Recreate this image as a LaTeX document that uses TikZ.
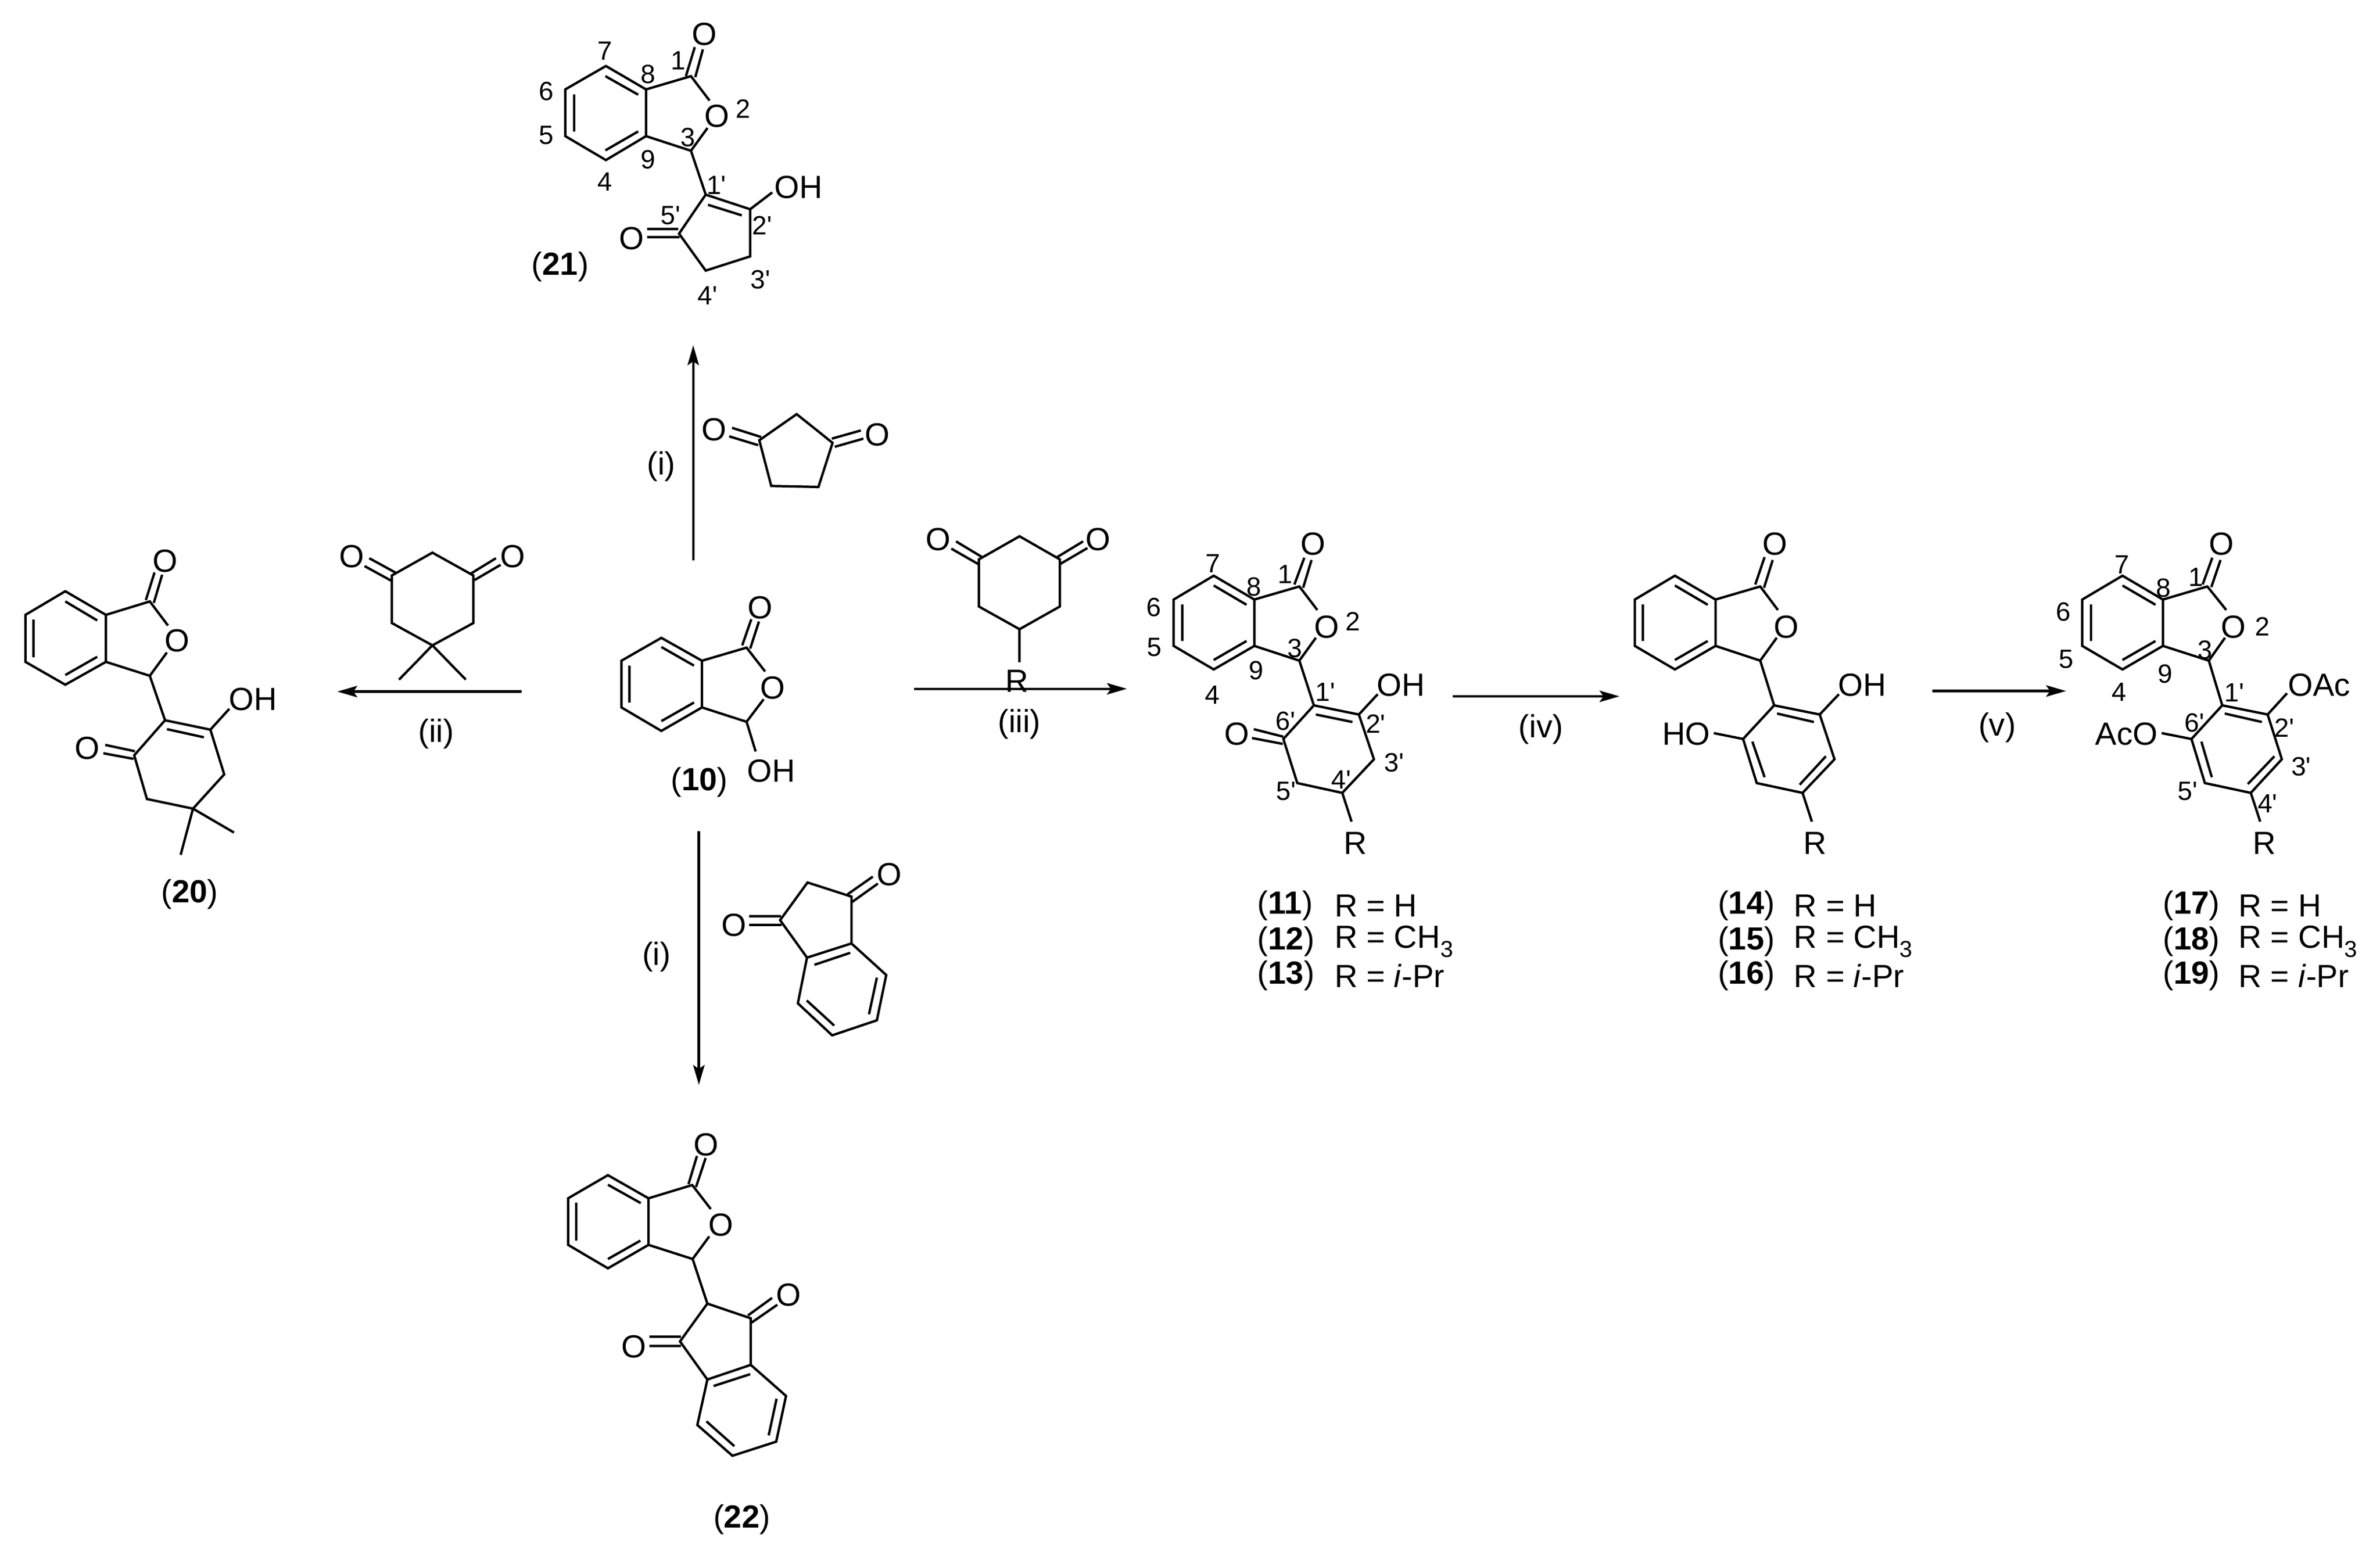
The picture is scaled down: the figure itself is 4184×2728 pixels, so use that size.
\documentclass[tikz,border=0pt]{standalone}
\usepackage{fontspec}
\setmainfont{Liberation Sans}
\usetikzlibrary{arrows.meta}
\newcommand{\prm}{\textquotesingle}
\newcommand{\pts}[1]{\foreach \n/\xx/\yy in {#1} \coordinate (\n) at (\xx,\yy);}
\newcommand{\nums}[2]{\foreach \t/\xx/\yy [count=\i] in {#2} \node[num] (#1-\i) at (\xx,\yy) {\t};}
\newcommand{\lactone}{%
  \draw[bond] (r1)--(r2)--(r3)--(r4)--(r5)--(r6)--cycle;
  \draw[bond] (i1a)--(i1b) (i2a)--(i2b) (i3a)--(i3b);
  \draw[bond] (r2)--(c1)--(oa) (ob)--(c3)--(r3);
  \draw[bond] (d1a)--(d1b) (d2a)--(d2b);
}
\newcommand{\subt}{\raisebox{-0.55ex}{\fontsize{11.5}{12}\selectfont 3}}
\tikzset{
  z/.style n args={4}{shift={(#1,#2)},xscale=#3,yscale=#4},
  bond/.style={line width=1.2pt,line join=miter,black},
  rxn/.style={line width=1.25pt,black,-{Stealth[length=0.35cm,width=0.2cm,inset=0.07cm]}},
  atom/.style={inner sep=0pt,font=\fontsize{16}{18}\selectfont},
  num/.style={inner sep=0pt,font=\fontsize{13.2}{14}\selectfont},
  cond/.style={inner sep=0pt,font=\fontsize{16}{18}\selectfont},
  cmp/.style={inner sep=0pt,anchor=west,font=\fontsize{16}{18}\selectfont},
  cmpc/.style={inner sep=0pt,font=\fontsize{16}{18}\selectfont},
}
\begin{document}
\begin{tikzpicture}[x=0.01cm,y=-0.01cm]
\useasboundingbox (0,0) rectangle (4184,2728);
\fill[white] (0,0) rectangle (4184,2728);

% ---------- compound 21
\begin{scope}[z={900}{0}{1/2.24}{1/2.8}]
\pts{r1/370/325,r2/528/440,r3/528/670,r4/370/788,r5/210/670,r6/210/440,
 i1a/368/375,i1b/497/466,i2a/245/465,i2b/245/648,i3a/497/647,i3b/368/740,
 c1/705/375,d1a/685/375,d1b/720/232,d2a/722/380,d2b/752/243,oa/778/495,ob/770/630,c3/705/742,
 p1/763/958,p2/938/1030,p3/938/1262,p4/763/1332,p5/658/1150,
 j1a/772/1008,j1b/905/1060,oh/1025/947,
 e1a/532/1127,e1b/655/1127,e2a/532/1167,e2b/660/1167}
\lactone
\draw[bond] (c3)--(p1)--(p2)--(p3)--(p4)--(p5)--(p1);
\draw[bond] (j1a)--(j1b) (p2)--(oh) (e1a)--(e1b) (e2a)--(e2b);
\node[atom] (o21a) at (758,168) {O};
\node[atom] (o21b) at (807,573) {O};
\node[atom] (oh21) at (1128,922) {OH};
\node[atom] (o21c) at (472,1173) {O};
\nums{n21}{1/655/298,2/910/535,3/693/675,4/365/895,5/135/667,6/135/450,7/365/250,8/537/365,9/537/785,
 1\prm/805/912,2\prm/985/1110,3\prm/978/1375,4\prm/770/1455,5\prm/625/1060}
\node[cmpc] (l21) at (190,1312) {(\textbf{21})};
\end{scope}

% ---------- compound 20
\begin{scope}[z={0}{900}{1/1.568}{1/2.24}]
\pts{r1/180/312,r2/292/405,r3/292/590,r4/180/680,r5/70/590,r6/70/405,
 i1a/180/352,i1b/268/427,i2a/92/423,i2b/92/572,i3a/268/570,i3b/180/642,
 c1/413/352,d1a/402/347,d1b/426/238,d2a/424/358,d2b/447/247,oa/463/447,ob/460/553,c3/413/645,
 p1/455/820,p2/580/857,p3/618/1033,p4/532/1168,p5/405/1130,p6/370/958,
 j1a/460/855,j1b/562/887,oh/632/775,e1a/290/917,e1b/372/942,e2a/285/950,e2b/368/972,
 m1/645/1262,m2/498/1350}
\lactone
\draw[bond] (c3)--(p1)--(p2)--(p3)--(p4)--(p5)--(p6)--(p1);
\draw[bond] (j1a)--(j1b) (p2)--(oh) (e1a)--(e1b) (e2a)--(e2b) (p4)--(m1) (p4)--(m2);
\node[atom] (o20a) at (455,194) {O};
\node[atom] (o20b) at (488,507) {O};
\node[atom] (oh20) at (697,738) {OH};
\node[atom] (o20c) at (241,930) {O};
\node[cmpc] (l20) at (523,1505) {(\textbf{20})};
% dimedone reagent
\pts{t1/1192/160,t2/1305/250,t3/1305/437,t4/1192/525,t5/1080/437,t6/1080/250,
 f1a/1018/182,f1b/1092/240,f2a/1005/213,f2b/1078/270,
 g1a/1367/182,g1b/1295/245,g2a/1380/208,g2b/1308/268,k1/1100/660,k2/1284/660}
\draw[bond] (t1)--(t2)--(t3)--(t4)--(t5)--(t6)--cycle;
\draw[bond] (f1a)--(f1b) (f2a)--(f2b) (g1a)--(g1b) (g2a)--(g2b) (t4)--(k1) (t4)--(k2);
\node[atom] (o20r) at (970,175) {O};
\node[atom] (o20s) at (1414,175) {O};
\end{scope}

% ---------- compound 10 and cyclopentanedione
\begin{scope}[z={1000}{550}{1/1.568}{1/1.742}]
\pts{r1/255/995,r2/367/1065,r3/367/1208,r4/255/1280,r5/145/1208,r6/145/1065,
 i1a/255/1023,i1b/345/1080,i2a/167/1080,i2b/167/1193,i3a/345/1193,i3b/255/1250,
 c1/490/1025,d1a/478/1018,d1b/503/938,d2a/500/1028,d2b/524/945,oa/541/1098,ob/537/1183,c3/490/1252,oh/515/1343}
\lactone
\draw[bond] (c3)--(oh);
\node[atom] (o10a) at (528,903) {O};
\node[atom] (o10b) at (562,1148) {O};
\node[atom] (oh10) at (558,1402) {OH};
\node[cmpc] (l10) at (360,1438) {(\textbf{10})};
\pts{t1/628/310,t2/727/398,t3/688/533,t4/558/530,t5/525/390,
 f1a/450/352,f1b/530/380,f2a/442/378,f2b/522/405,
 g1a/805/360,g1b/725/385,g2a/812/385,g2b/733/410}
\draw[bond] (t1)--(t2)--(t3)--(t4)--(t5)--cycle;
\draw[bond] (f1a)--(f1b) (f2a)--(f2b) (g1a)--(g1b) (g2a)--(g2b);
\node[atom] (o21r) at (400,358) {O};
\node[atom] (o21s) at (850,373) {O};
\end{scope}

% ---------- cyclohexanedione reagent
\begin{scope}[z={1550}{850}{1/3}{1/3}]
\pts{t1/727/278,t2/940/400,t3/940/648,t4/727/768,t5/512/648,t6/512/400,
 f1a/392/305,f1b/530/388,f2a/367/343,f2b/510/425,
 g1a/1062/305,g1b/925/388,g2a/1085/340,g2b/940/425,k1/727/942}
\draw[bond] (t1)--(t2)--(t3)--(t4)--(t5)--(t6)--cycle;
\draw[bond] (f1a)--(f1b) (f2a)--(f2b) (g1a)--(g1b) (g2a)--(g2b) (t4)--(k1);
\node[atom] (o11r) at (297,293) {O};
\node[atom] (o11s) at (1142,293) {O};
\node[atom] (r11r) at (712,1040) {R};
\end{scope}

% ---------- indanedione reagent
\begin{scope}[z={1000}{1400}{1/2.24}{1/2.613}]
\pts{t1/940/395,t2/1113/460,t3/1113/675,t4/938/740,t5/832/568,
 b1/1250/820,b2/1213/1028,b3/1037/1097,b4/902/950,
 i1a/1108/718,i1b/967/773,i2a/1213/832,i2b/1182/1000,i3a/1045/1052,i3b/937/937,
 f1a/710/550,f1b/835/550,f2a/710/590,f2b/838/590,
 g1a/1197/368,g1b/1097/450,g2a/1217/400,g2b/1115/485}
\draw[bond] (t1)--(t2)--(t3)--(t4)--(t5)--cycle;
\draw[bond] (t3)--(b1)--(b2)--(b3)--(b4)--(t4);
\draw[bond] (i1a)--(i1b) (i2a)--(i2b) (i3a)--(i3b) (f1a)--(f1b) (f2a)--(f2b) (g1a)--(g1b) (g2a)--(g2b);
\node[atom] (o22r) at (650,592) {O};
\node[atom] (o22s) at (1263,358) {O};
\end{scope}

% ---------- compound 22
\begin{scope}[z={950}{1950}{1/3.015}{1/2.015}]
\pts{r1/358/233,r2/573/315,r3/573/480,r4/358/563,r5/147/480,r6/147/315,
 i1a/358/267,i1b/532/332,i2a/190/330,i2b/190/465,i3a/530/465,i3b/358/530,
 c1/805/268,d1a/785/265,d1b/830/165,d2a/825/275,d2b/876/172,oa/903/353,ob/895/450,c3/807/530,
 p1/885/688,p2/1115/740,p3/1115/905,p4/885/957,p5/740/822,
 b1/1302/1015,b2/1250/1177,b3/1018/1227,b4/832/1118,
 j1a/918/980,j1b/1112/938,j2a/1252/1025,j2b/1210/1155,j3a/1028/1193,j3b/880/1105,
 e1a/1100/730,e1b/1228/668,e2a/1120/755,e2b/1256/692,
 h1a/578/805,h1b/745/805,h2a/578/838,h2b/745/838}
\lactone
\draw[bond] (c3)--(p1)--(p2)--(p3)--(p4)--(p5)--(p1);
\draw[bond] (p3)--(b1)--(b2)--(b3)--(b4)--(p4);
\draw[bond] (j1a)--(j1b) (j2a)--(j2b) (j3a)--(j3b) (e1a)--(e1b) (e2a)--(e2b) (h1a)--(h1b) (h2a)--(h2b);
\node[atom] (o22a) at (878,125) {O};
\node[atom] (o22b) at (957,410) {O};
\node[atom] (o22c) at (1317,658) {O};
\node[atom] (o22d) at (495,840) {O};
\node[cmpc] (l22) at (1068,1453) {(\textbf{22})};
\end{scope}

% ---------- compounds 11-13
\begin{scope}[z={1950}{900}{1/1.96}{1/1.742}]
\pts{r1/360/195,r2/500/268,r3/500/410,r4/360/482,r5/222/410,r6/222/268,
 i1a/360/225,i1b/473/284,i2a/252/283,i2b/252/395,i3a/473/395,i3b/360/453,
 c1/655/228,d1a/638/222,d1b/672/140,d2a/668/232,d2b/697/147,oa/717/300,ob/712/385,c3/655/455,
 p1/705/592,p2/860/620,p3/912/757,p4/803/860,p5/648/830,p6/600/695,
 j1a/712/620,j1b/838/643,oh/925/558,e1a/498/665,e1b/600/688,e2a/492/692,e2b/598/710,rr/835/948}
\lactone
\draw[bond] (c3)--(p1)--(p2)--(p3)--(p4)--(p5)--(p6)--(p1);
\draw[bond] (j1a)--(j1b) (p2)--(oh) (e1a)--(e1b) (e2a)--(e2b) (p4)--(rr);
\node[atom] (o11a) at (702,98) {O};
\node[atom] (o11b) at (750,352) {O};
\node[atom] (oh11) at (1005,530) {OH};
\node[atom] (o11c) at (440,680) {O};
\node[atom] (r11) at (848,1015) {R};
\nums{n11}{1/607/190,2/840/335,3/640/418,4/355/560,5/155/415,6/153/292,7/357/157,8/498/230,9/507/485,
 1\prm/745/552,2\prm/918/648,3\prm/982/768,4\prm/800/820,5\prm/610/855,6\prm/607/640}
\node[cmp] (l11) at (510,1205) {(\textbf{11})};
\node[cmp] (v11) at (775,1205) {R = H};
\node[cmp] (l12) at (510,1315) {(\textbf{12})};
\node[cmp] (v12) at (775,1315) {R = CH\subt};
\node[cmp] (l13) at (510,1420) {(\textbf{13})};
\node[cmp] (v13) at (775,1420) {R = \textit{i}-Pr};
\end{scope}

% ---------- compounds 14-16
\begin{scope}[z={2800}{900}{1/1.96}{1/1.742}]
\pts{r1/283/195,r2/423/268,r3/423/410,r4/283/482,r5/145/410,r6/145/268,
 i1a/283/225,i1b/396/284,i2a/173/283,i2b/173/395,i3a/396/395,i3b/283/453,
 c1/577/228,d1a/560/222,d1b/592/138,d2a/590/232,d2b/620/147,oa/638/300,ob/634/385,c3/577/455,
 p1/625/592,p2/782/620,p3/833/757,p4/723/860,p5/565/830,p6/518/695,
 j1a/635/617,j1b/762/643,j2a/803/748,j2b/713/835,j3a/592/812,j3b/550/703,
 oh/848/558,ho/417/677,rr/755/948}
\lactone
\draw[bond] (c3)--(p1)--(p2)--(p3)--(p4)--(p5)--(p6)--(p1);
\draw[bond] (j1a)--(j1b) (j2a)--(j2b) (j3a)--(j3b) (p2)--(oh) (p6)--(ho) (p4)--(rr);
\node[atom] (o14a) at (627,98) {O};
\node[atom] (o14b) at (668,352) {O};
\node[atom] (oh14) at (928,530) {OH};
\node[atom] (ho14) at (322,680) {HO};
\node[atom] (r14) at (765,1015) {R};
\node[cmp] (l14) at (430,1205) {(\textbf{14})};
\node[cmp] (v14) at (692,1205) {R = H};
\node[cmp] (l15) at (430,1315) {(\textbf{15})};
\node[cmp] (v15) at (692,1315) {R = CH\subt};
\node[cmp] (l16) at (430,1420) {(\textbf{16})};
\node[cmp] (v16) at (692,1420) {R = \textit{i}-Pr};
\end{scope}

% ---------- compounds 17-19
\begin{scope}[z={3500}{900}{1/2.292}{1/1.742}]
\pts{r1/530/195,r2/693/268,r3/693/410,r4/530/482,r5/368/410,r6/368/268,
 i1a/530/225,i1b/663/284,i2a/403/283,i2b/403/395,i3a/663/395,i3b/530/453,
 c1/872/228,d1a/853/222,d1b/892/140,d2a/888/230,d2b/925/147,oa/948/300,ob/943/385,c3/878/455,
 p1/932/592,p2/1115/620,p3/1172/757,p4/1047/860,p5/862/830,p6/808/695,
 j1a/942/617,j1b/1092/643,j2a/1142/748,j2b/1035/833,j3a/890/812,j3b/848/703,
 oh/1193/555,ho/688/677,rr/1085/948}
\lactone
\draw[bond] (c3)--(p1)--(p2)--(p3)--(p4)--(p5)--(p6)--(p1);
\draw[bond] (j1a)--(j1b) (j2a)--(j2b) (j3a)--(j3b) (p2)--(oh) (p6)--(ho) (p4)--(rr);
\node[atom] (o17a) at (930,98) {O};
\node[atom] (o17b) at (978,352) {O};
\node[atom] (oac17) at (1323,530) {OAc};
\node[atom] (aco17) at (547,680) {AcO};
\node[atom] (r17) at (1103,1015) {R};
\nums{n17}{1/825/200,2/1093/350,3/862/422,4/517/552,5/303/450,6/292/305,7/527/162,8/695/232,9/703/495,
 1\prm/980/553,2\prm/1183/660,3\prm/1250/780,4\prm/1115/893,5\prm/793/855,6\prm/820/645}
\node[cmp] (l17) at (692,1205) {(\textbf{17})};
\node[cmp] (v17) at (997,1205) {R = H};
\node[cmp] (l18) at (692,1315) {(\textbf{18})};
\node[cmp] (v18) at (997,1315) {R = CH\subt};
\node[cmp] (l19) at (692,1420) {(\textbf{19})};
\node[cmp] (v19) at (997,1420) {R = \textit{i}-Pr};
\end{scope}

% ---------- reaction arrows
\pts{a1s/1218.7/984.6,a1e/1218.7/607,a2s/917/1215.6,a2e/593/1215.6,
 a3s/1607/1210.7,a3e/1981/1210.7,a4s/2553.6/1224,a4e/2847/1224,
 a5s/3397/1214.6,a5e/3632/1214.6,a6s/1228.6/1460.5,a6e/1228.6/1907}
\draw[rxn] (a1s)--(a1e);
\draw[rxn] (a2s)--(a2e);
\draw[rxn] (a3s)--(a3e);
\draw[rxn] (a4s)--(a4e);
\draw[rxn] (a5s)--(a5e);
\draw[rxn] (a6s)--(a6e);
\node[cond] (ci1) at (1162.6,820) {(i)};
\node[cond] (cii) at (767,1290) {(ii)};
\node[cond] (ciii) at (1792,1273) {(iii)};
\node[cond] (civ) at (2709,1282) {(iv)};
\node[cond] (cv) at (3511,1279) {(v)};
\node[cond] (ci2) at (1154,1682) {(i)};
\end{tikzpicture}
\end{document}
